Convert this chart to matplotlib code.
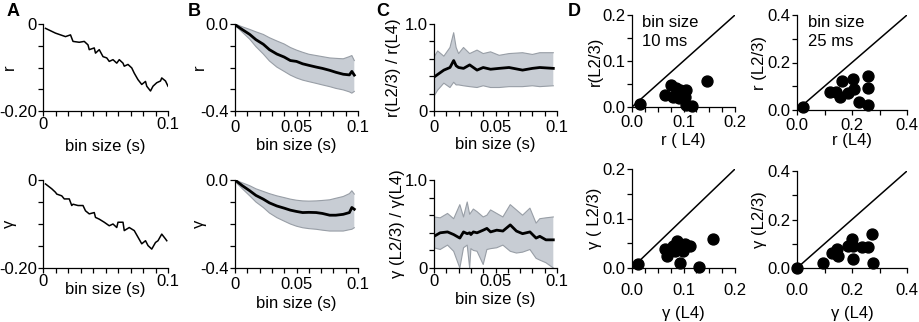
import numpy as np
import matplotlib.pyplot as plt
from matplotlib.ticker import MultipleLocator

plt.rcParams['font.family'] = ['Liberation Sans', 'DejaVu Sans']
plt.rcParams['font.size'] = 12

# ---- panel A: single-recording curves ----
a_r_x = [0.002, 0.010, 0.014, 0.018, 0.022, 0.024, 0.029, 0.033, 0.036, 0.037, 0.041,
         0.042, 0.045, 0.048, 0.051, 0.053, 0.056, 0.059, 0.061, 0.064, 0.065, 0.068,
         0.071, 0.073, 0.076, 0.079, 0.082, 0.083, 0.086, 0.088, 0.091, 0.094, 0.095,
         0.098, 0.100]
a_r_y = [-0.010, -0.021, -0.025, -0.029, -0.025, -0.040, -0.042, -0.040, -0.048, -0.059,
         -0.055, -0.067, -0.059, -0.075, -0.078, -0.086, -0.082, -0.090, -0.082, -0.090,
         -0.097, -0.093, -0.101, -0.113, -0.128, -0.139, -0.132, -0.143, -0.154, -0.143,
         -0.135, -0.131, -0.124, -0.131, -0.143]

a_g_x = [0.002, 0.007, 0.010, 0.011, 0.015, 0.017, 0.021, 0.023, 0.024, 0.028, 0.032,
         0.034, 0.037, 0.041, 0.042, 0.045, 0.049, 0.053, 0.056, 0.059, 0.060, 0.064,
         0.065, 0.069, 0.073, 0.076, 0.079, 0.082, 0.084, 0.087, 0.090, 0.092, 0.095,
         0.098, 0.099]
a_g_y = [-0.009, -0.020, -0.028, -0.032, -0.036, -0.043, -0.043, -0.058, -0.055, -0.058,
         -0.058, -0.070, -0.077, -0.074, -0.085, -0.089, -0.096, -0.104, -0.100, -0.108,
         -0.096, -0.096, -0.115, -0.108, -0.115, -0.130, -0.145, -0.138, -0.149, -0.157,
         -0.142, -0.138, -0.123, -0.134, -0.138]

# ---- panel B: mean and band ----
b_x = [0.0, 0.006, 0.012, 0.017, 0.023, 0.028, 0.034, 0.040, 0.045, 0.050, 0.055,
       0.060, 0.066, 0.071, 0.077, 0.082, 0.088, 0.093, 0.095, 0.097]
b_r_mean = [-0.003, -0.026, -0.048, -0.072, -0.093, -0.118, -0.138, -0.152, -0.168, -0.172,
            -0.183, -0.190, -0.198, -0.204, -0.213, -0.222, -0.231, -0.234, -0.218, -0.235]
b_r_hi = [0.0, -0.013, -0.025, -0.036, -0.048, -0.063, -0.078, -0.092, -0.108, -0.120,
          -0.130, -0.139, -0.145, -0.150, -0.156, -0.158, -0.160, -0.150, -0.145, -0.168]
b_r_lo = [-0.006, -0.038, -0.070, -0.104, -0.138, -0.170, -0.198, -0.218, -0.235, -0.248,
          -0.258, -0.265, -0.273, -0.280, -0.288, -0.296, -0.303, -0.312, -0.318, -0.310]

b_g_mean = [0.0, -0.026, -0.049, -0.070, -0.087, -0.104, -0.118, -0.128, -0.137, -0.143,
            -0.148, -0.147, -0.148, -0.152, -0.160, -0.160, -0.156, -0.148, -0.125, -0.133]
b_g_hi = [0.0, -0.013, -0.026, -0.040, -0.052, -0.062, -0.072, -0.080, -0.087, -0.092,
          -0.095, -0.096, -0.095, -0.093, -0.090, -0.083, -0.075, -0.062, -0.049, -0.064]
b_g_lo = [-0.006, -0.040, -0.072, -0.100, -0.125, -0.150, -0.171, -0.187, -0.200, -0.210,
          -0.217, -0.221, -0.224, -0.228, -0.232, -0.232, -0.232, -0.226, -0.224, -0.217]

# ---- panel C: ratios ----
c_r_x = [0.0, 0.003, 0.008, 0.013, 0.016, 0.018, 0.020, 0.024, 0.029, 0.035, 0.040,
         0.046, 0.053, 0.061, 0.072, 0.080, 0.086, 0.097]
c_r_mean = [0.39, 0.42, 0.47, 0.50, 0.58, 0.52, 0.50, 0.49, 0.53, 0.47, 0.50, 0.48,
            0.49, 0.50, 0.47, 0.49, 0.50, 0.49]
c_r_hi = [0.62, 0.69, 0.63, 0.73, 0.90, 0.73, 0.66, 0.73, 0.66, 0.70, 0.66, 0.68,
          0.64, 0.66, 0.67, 0.65, 0.67, 0.67]
c_r_lo = [0.17, 0.24, 0.32, 0.27, 0.33, 0.30, 0.30, 0.29, 0.28, 0.27, 0.29, 0.27,
          0.27, 0.28, 0.28, 0.29, 0.28, 0.29]

c_g_x = [0.0, 0.005, 0.011, 0.016, 0.021, 0.024, 0.027, 0.029, 0.030, 0.032, 0.035,
         0.040, 0.043, 0.046, 0.051, 0.056, 0.062, 0.067, 0.072, 0.078, 0.083, 0.086,
         0.091, 0.097]
c_g_mean = [0.36, 0.40, 0.41, 0.38, 0.34, 0.41, 0.39, 0.40, 0.38, 0.41, 0.40, 0.43,
            0.45, 0.41, 0.43, 0.42, 0.49, 0.42, 0.39, 0.41, 0.34, 0.36, 0.32, 0.32]
c_g_hi = [0.58, 0.57, 0.62, 0.56, 0.72, 0.58, 0.75, 0.61, 0.63, 0.67, 0.64, 0.58,
          0.60, 0.66, 0.62, 0.58, 0.72, 0.66, 0.60, 0.68, 0.51, 0.56, 0.57, 0.58]
c_g_lo = [0.23, 0.21, 0.26, 0.19, 0.0, 0.23, 0.26, 0.0, 0.22, 0.20, 0.19, 0.04,
          0.21, 0.22, 0.23, 0.26, 0.19, 0.17, 0.18, 0.21, 0.11, 0.09, 0.06, 0.0]

# ---- panel D: scatter per recording ----
d_r10_x = [0.015, 0.075, 0.065, 0.085, 0.079, 0.092, 0.094, 0.104, 0.102, 0.104, 0.117, 0.146]
d_r10_y = [0.007, 0.048, 0.026, 0.041, 0.022, 0.020, 0.037, 0.037, 0.022, 0.005, 0.003, 0.057]
d_r25_x = [0.023, 0.120, 0.156, 0.162, 0.187, 0.207, 0.205, 0.227, 0.259, 0.259, 0.259, 0.140]
d_r25_y = [0.014, 0.077, 0.056, 0.122, 0.073, 0.087, 0.129, 0.032, 0.143, 0.091, 0.021, 0.076]
d_g10_x = [0.012, 0.064, 0.068, 0.080, 0.087, 0.083, 0.099, 0.103, 0.113, 0.093, 0.130, 0.157]
d_g10_y = [0.008, 0.038, 0.024, 0.044, 0.055, 0.034, 0.034, 0.048, 0.044, 0.010, 0.002, 0.059]
d_g25_x = [0.0, 0.095, 0.127, 0.145, 0.149, 0.185, 0.200, 0.204, 0.204, 0.236, 0.258, 0.272, 0.276]
d_g25_y = [0.0, 0.020, 0.062, 0.078, 0.050, 0.090, 0.120, 0.090, 0.037, 0.087, 0.087, 0.140, 0.020]

W, H = 919, 322
fig = plt.figure(figsize=(W / 100, H / 100), dpi=100)


def box(x0, x1, y0, y1):
    return [x0 / W, 1 - y1 / H, (x1 - x0) / W, (y1 - y0) / H]


def style(ax, xpad=2, ypad=1):
    for s in ['top', 'right']:
        ax.spines[s].set_visible(False)
    ax.tick_params(which='both', direction='out', length=3.5, width=0.9)
    ax.tick_params(axis='x', which='both', pad=xpad)
    ax.tick_params(axis='y', which='both', pad=ypad)
    ax.spines['left'].set_linewidth(0.9)
    ax.spines['bottom'].set_linewidth(0.9)


def labels(ax, xlab, ylab, xl_y, yl_x):
    ax.set_xlabel(xlab, va='center')
    ax.set_ylabel(ylab, va='center')
    ax.xaxis.set_label_coords(0.5, xl_y)
    ax.yaxis.set_label_coords(yl_x, 0.5)


band_face = '#c8cdd4'
band_edge = '#989ea6'

rows = [(24, 111), (180, 268)]

# A
for (y0, y1), xs, ys, lab, xl_y in [(rows[0], a_r_x, a_r_y, 'r', -0.41),
                                    (rows[1], a_g_x, a_g_y, 'γ', -0.24)]:
    ax = fig.add_axes(box(43, 168, y0, y1))
    style(ax, xpad=1)
    ax.plot(xs, ys, color='black', lw=1.1)
    ax.set_xlim(0, 0.1)
    ax.set_ylim(-0.2, 0)
    ax.set_xticks([0, 0.1], ['0', '0.1'])
    ax.xaxis.set_minor_locator(MultipleLocator(0.01))
    ax.set_yticks([-0.2, 0], ['-0.20', '0'])
    ax.yaxis.set_minor_locator(MultipleLocator(0.05))
    labels(ax, 'bin size (s)', lab, xl_y, -0.27)

# B
for (y0, y1), m, hi, lo, lab in [(rows[0], b_r_mean, b_r_hi, b_r_lo, 'r'),
                                 (rows[1], b_g_mean, b_g_hi, b_g_lo, 'γ')]:
    ax = fig.add_axes(box(235, 358, y0, y1))
    style(ax, xpad=3)
    ax.fill_between(b_x, lo, hi, facecolor=band_face, edgecolor='none')
    ax.plot(b_x, hi, color=band_edge, lw=0.8)
    ax.plot(b_x, lo, color=band_edge, lw=0.8)
    ax.plot(b_x, m, color='black', lw=2.0)
    ax.set_xlim(0, 0.1)
    ax.set_ylim(-0.4, 0)
    ax.set_xticks([0, 0.05, 0.1], ['0', '0.05', '0.1'])
    ax.xaxis.set_minor_locator(MultipleLocator(0.01))
    ax.set_yticks([-0.4, 0], ['-0.4', '0.0'])
    ax.yaxis.set_minor_locator(MultipleLocator(0.1))
    labels(ax, 'bin size (s)', lab, -0.40, -0.29)

# C
for (y0, y1), xs, m, hi, lo, lab, xpad, xl_y, yl_x in [
        (rows[0], c_r_x, c_r_mean, c_r_hi, c_r_lo, 'r(L2/3) / r(L4)', 3, -0.39, -0.33),
        (rows[1], c_g_x, c_g_mean, c_g_hi, c_g_lo, 'γ (L2/3) / γ(L4)', 1, -0.36, -0.30)]:
    ax = fig.add_axes(box(434, 557, y0, y1))
    style(ax, xpad=xpad)
    ax.fill_between(xs, lo, hi, facecolor=band_face, edgecolor='none')
    ax.plot(xs, hi, color=band_edge, lw=0.8)
    ax.plot(xs, lo, color=band_edge, lw=0.8)
    ax.plot(xs, m, color='black', lw=2.0)
    ax.set_xlim(0, 0.1)
    ax.set_ylim(0, 1.0)
    ax.set_xticks([0, 0.05, 0.1], ['0', '0.05', '0.1'])
    ax.xaxis.set_minor_locator(MultipleLocator(0.01))
    ax.set_yticks([0, 1.0], ['0', '1.0'])
    ax.yaxis.set_minor_locator(MultipleLocator(0.2))
    labels(ax, 'bin size (s)', lab, xl_y, yl_x)

# D
d_panels = [
    (box(632, 735, 15, 107), d_r10_x, d_r10_y, 0.2, 'r(L2/3)', 'r ( L4)', 'bin size\n10 ms', 2, -0.36, -0.36),
    (box(797, 907, 15, 110), d_r25_x, d_r25_y, 0.4, 'r (L2/3)', 'r (L4)', 'bin size\n25 ms', 2, -0.32, -0.34),
    (box(632, 735, 169, 268), d_g10_x, d_g10_y, 0.2, 'γ ( L2/3)', 'γ (L4)', None, 7, -0.46, -0.36),
    (box(797, 907, 171, 268), d_g25_x, d_g25_y, 0.4, 'γ (L2/3)', 'γ (L4)', None, 7, -0.47, -0.34),
]
for rect, xs, ys, lim, ylab, xlab, note, xpad, xl_y, yl_x in d_panels:
    ax = fig.add_axes(rect)
    style(ax, xpad=xpad)
    ax.plot([0, lim], [0, lim], color='black', lw=1.1)
    ax.scatter(xs, ys, s=62, color='black', zorder=3, clip_on=False)
    ax.set_xlim(0, lim)
    ax.set_ylim(0, lim)
    ax.set_xticks([0, lim / 2, lim], ['0.0', f'{lim / 2:.1f}', f'{lim:.1f}'])
    ax.set_yticks([0, lim / 2, lim], ['0.0', f'{lim / 2:.1f}', f'{lim:.1f}'])
    ax.xaxis.set_minor_locator(MultipleLocator(lim / 8 if lim == 0.2 else lim / 4))
    ax.yaxis.set_minor_locator(MultipleLocator(lim / 4))
    labels(ax, xlab, ylab, xl_y, yl_x)
    if note:
        ax.text(0.1, 1.0, note, transform=ax.transAxes, va='top', ha='left', linespacing=1.3)

for lbl, x in [('A', 7), ('B', 188), ('C', 376), ('D', 568)]:
    fig.text(x / W, 1 - 11 / H, lbl, fontsize=13, fontweight='bold', va='center', ha='left')

fig.savefig('out.png', dpi=100)
